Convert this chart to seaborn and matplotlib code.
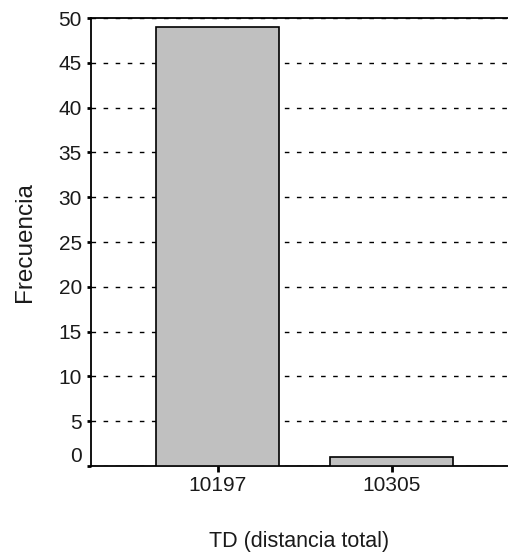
import matplotlib
matplotlib.use("Agg")
import matplotlib.pyplot as plt
import matplotlib.transforms as mtransforms
import seaborn as sns
import pandas as pd

# Frequency of each total distance value
categorias = ["10197", "10305"]
frecuencias = [49, 1]
yticks = [0, 5, 10, 15, 20, 25, 30, 35, 40, 45, 50]

df = pd.DataFrame({"td": categorias, "frecuencia": frecuencias})

sns.set_style("white")
plt.rcParams["font.family"] = ["Liberation Sans", "DejaVu Sans"]

fig = plt.figure(figsize=(5.08, 5.53), dpi=100)
ax = fig.add_axes([91 / 508, 87 / 553, 1 - 91 / 508, 448 / 553])

sns.barplot(data=df, x="td", y="frecuencia", color="#c0c0c0",
            saturation=1, width=0.707, edgecolor="black", linewidth=1.2,
            ax=ax, zorder=3)

ax.set_xlim(-0.73, 1.67)
ax.set_ylim(0, 50)
ax.set_yticks(yticks)
ax.set_yticklabels([str(v) for v in yticks])

ax.yaxis.grid(True, color="black", linestyle=(0, (3.3, 5.4)), linewidth=1.0)
ax.xaxis.grid(False)
ax.set_axisbelow(True)

for side in ["left", "top", "bottom"]:
    ax.spines[side].set_visible(True)
    ax.spines[side].set_color("black")
    ax.spines[side].set_linewidth(1.3)
ax.spines["right"].set_visible(False)
ax.spines["bottom"].set_bounds(*ax.get_xlim())
ax.spines["top"].set_bounds(*ax.get_xlim())

ax.tick_params(axis="y", direction="out", length=3, width=2, color="black",
               labelsize=15, labelcolor="#1a1a1a", pad=3.5, left=True)
ax.tick_params(axis="x", direction="out", length=4, width=2, color="black",
               labelsize=15, labelcolor="#1a1a1a", pad=3, bottom=True)

# lift the zero label slightly above the baseline
zero_label = ax.get_yticklabels()[0]
zero_label.set_transform(zero_label.get_transform() +
                         mtransforms.ScaledTranslation(0, 12 / 100, fig.dpi_scale_trans))

ax.set_xlabel("TD (distancia total)", fontsize=15.5, color="#1a1a1a", labelpad=26)
ax.set_ylabel("Frecuencia", fontsize=17.5, color="#1a1a1a", labelpad=16)

fig.savefig("out.png", dpi=100)
